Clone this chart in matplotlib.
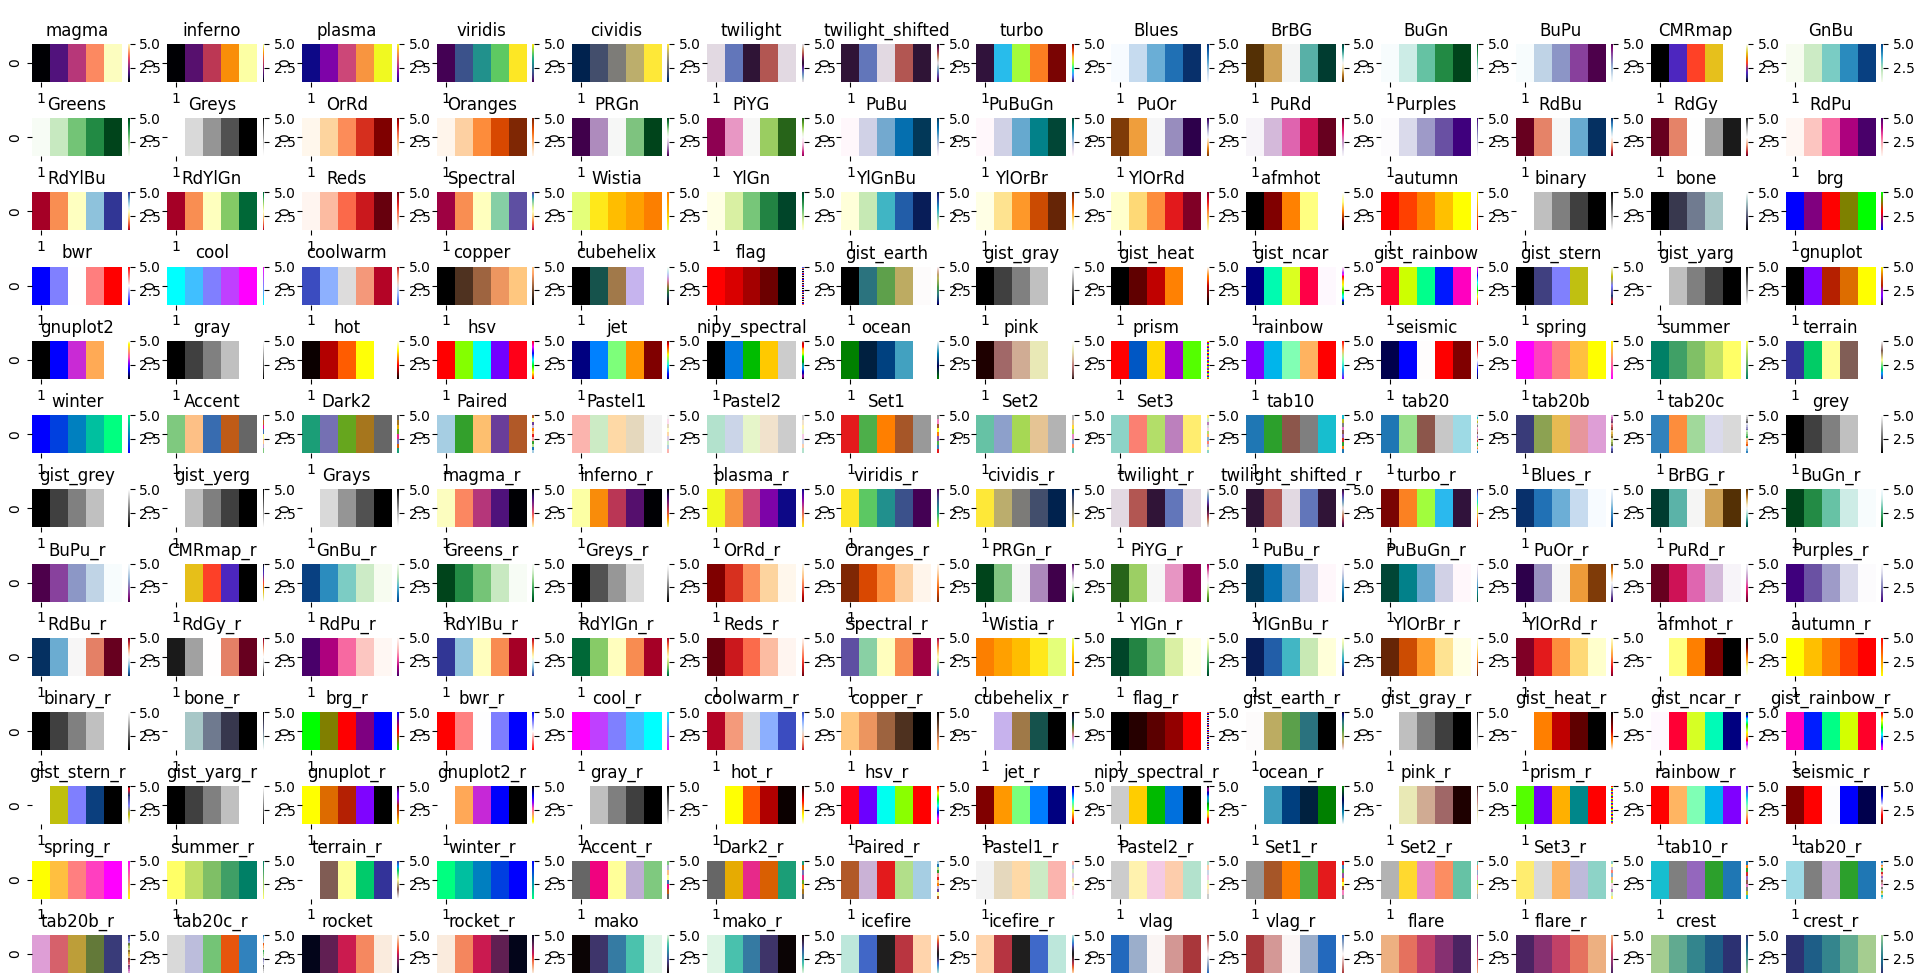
import matplotlib
matplotlib.use("Agg")
import numpy as np
import seaborn as sns  # registers rocket, mako, icefire, vlag, flare, crest
from matplotlib import pyplot as plt

# colormap names in the order they appear (row by row)
cmap_names = [
    "magma", "inferno", "plasma", "viridis", "cividis", "twilight", "twilight_shifted",
    "turbo", "Blues", "BrBG", "BuGn", "BuPu", "CMRmap", "GnBu",
    "Greens", "Greys", "OrRd", "Oranges", "PRGn", "PiYG", "PuBu",
    "PuBuGn", "PuOr", "PuRd", "Purples", "RdBu", "RdGy", "RdPu",
    "RdYlBu", "RdYlGn", "Reds", "Spectral", "Wistia", "YlGn", "YlGnBu",
    "YlOrBr", "YlOrRd", "afmhot", "autumn", "binary", "bone", "brg",
    "bwr", "cool", "coolwarm", "copper", "cubehelix", "flag", "gist_earth",
    "gist_gray", "gist_heat", "gist_ncar", "gist_rainbow", "gist_stern", "gist_yarg", "gnuplot",
    "gnuplot2", "gray", "hot", "hsv", "jet", "nipy_spectral", "ocean",
    "pink", "prism", "rainbow", "seismic", "spring", "summer", "terrain",
    "winter", "Accent", "Dark2", "Paired", "Pastel1", "Pastel2", "Set1",
    "Set2", "Set3", "tab10", "tab20", "tab20b", "tab20c", "grey",
    "gist_grey", "gist_yerg", "Grays", "magma_r", "inferno_r", "plasma_r", "viridis_r",
    "cividis_r", "twilight_r", "twilight_shifted_r", "turbo_r", "Blues_r", "BrBG_r", "BuGn_r",
    "BuPu_r", "CMRmap_r", "GnBu_r", "Greens_r", "Greys_r", "OrRd_r", "Oranges_r",
    "PRGn_r", "PiYG_r", "PuBu_r", "PuBuGn_r", "PuOr_r", "PuRd_r", "Purples_r",
    "RdBu_r", "RdGy_r", "RdPu_r", "RdYlBu_r", "RdYlGn_r", "Reds_r", "Spectral_r",
    "Wistia_r", "YlGn_r", "YlGnBu_r", "YlOrBr_r", "YlOrRd_r", "afmhot_r", "autumn_r",
    "binary_r", "bone_r", "brg_r", "bwr_r", "cool_r", "coolwarm_r", "copper_r",
    "cubehelix_r", "flag_r", "gist_earth_r", "gist_gray_r", "gist_heat_r", "gist_ncar_r", "gist_rainbow_r",
    "gist_stern_r", "gist_yarg_r", "gnuplot_r", "gnuplot2_r", "gray_r", "hot_r", "hsv_r",
    "jet_r", "nipy_spectral_r", "ocean_r", "pink_r", "prism_r", "rainbow_r", "seismic_r",
    "spring_r", "summer_r", "terrain_r", "winter_r", "Accent_r", "Dark2_r", "Paired_r",
    "Pastel1_r", "Pastel2_r", "Set1_r", "Set2_r", "Set3_r", "tab10_r", "tab20_r",
    "tab20b_r", "tab20c_r", "rocket", "rocket_r", "mako", "mako_r", "icefire",
    "icefire_r", "vlag", "vlag_r", "flare", "flare_r", "crest", "crest_r",
]

# fallbacks for aliases that may be missing in this matplotlib
aliases = {"grey": "gray", "gist_grey": "gist_gray", "gist_yerg": "gist_yarg", "Grays": "Greys"}

values = [[1, 2, 3, 4, 5]]
xtick_labels = ["1"]
ytick_labels = ["0"]

n_rows, n_cols = 13, 14

fig, axes = plt.subplots(
    n_rows, n_cols,
    figsize=(19.2, 9.73), dpi=100,
    gridspec_kw=dict(left=0.0167, right=0.9886, top=0.9548, bottom=0.0,
                     wspace=0.2, hspace=0.954),
)

data = np.array(values, dtype=float)
known = set(plt.colormaps())

# heatmap drawn the way seaborn does it, without the per-axes redraws
for ax, name in zip(axes.flat, cmap_names):
    cmap = name if name in known else aliases.get(name, name)
    mesh = ax.pcolormesh(data, cmap=cmap, vmin=data.min(), vmax=data.max())
    ax.set_xlim(0, data.shape[1])
    ax.set_ylim(0, data.shape[0])
    ax.invert_yaxis()
    for spine in ax.spines.values():
        spine.set_visible(False)
    cb = fig.colorbar(mesh, ax=ax)
    cb.outline.set_linewidth(0)
    ax.set_xticks([0.5])
    ax.set_xticklabels(xtick_labels)
    ax.set_yticks([0.5])
    ax.set_yticklabels(ytick_labels, rotation="vertical", va="center")
    ax.set_title(name)

plt.savefig("out.png", dpi=100)
plt.close()
